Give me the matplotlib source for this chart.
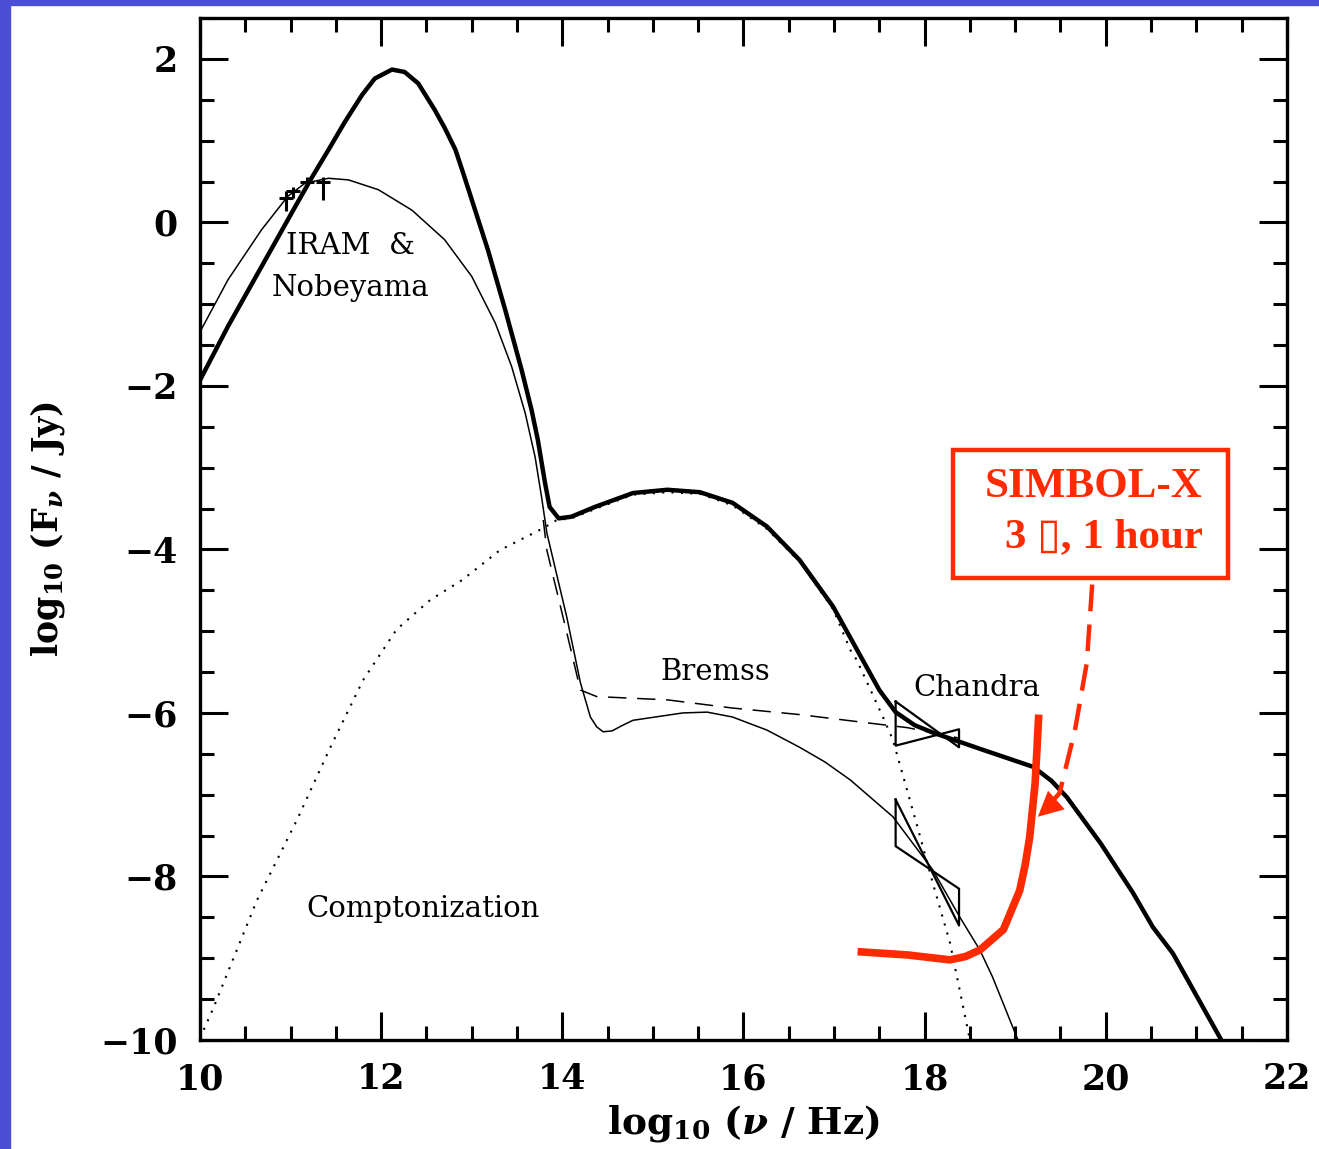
import matplotlib

matplotlib.use("Agg")
import matplotlib.pyplot as plt
from matplotlib.patches import Rectangle

plt.rcParams["font.family"] = ["DejaVu Serif"]
plt.rcParams["mathtext.fontset"] = "dejavuserif"

# total model (thick line)
total_x = [10.00, 10.31, 10.68, 11.05, 11.23, 11.42, 11.60, 11.79, 11.93, 12.12,
           12.26, 12.41, 12.59, 12.70, 12.82, 12.91, 13.00, 13.18, 13.37, 13.55,
           13.66, 13.73, 13.81, 13.86, 13.96, 14.10, 14.36, 14.78, 15.16, 15.52,
           15.88, 16.26, 16.62, 16.99, 17.36, 17.50, 17.68, 17.89, 18.09, 18.64,
           19.20, 19.40, 19.57, 19.94, 20.30, 20.52, 20.74, 21.30]
total_y = [-1.93, -1.27, -0.54, 0.19, 0.54, 0.89, 1.23, 1.56, 1.76, 1.87,
           1.84, 1.70, 1.38, 1.16, 0.89, 0.59, 0.28, -0.34, -1.07, -1.80,
           -2.29, -2.66, -3.19, -3.48, -3.62, -3.60, -3.48, -3.31, -3.27, -3.30,
           -3.43, -3.72, -4.13, -4.70, -5.44, -5.72, -5.99, -6.15, -6.24, -6.45,
           -6.66, -6.83, -7.03, -7.59, -8.20, -8.62, -8.94, -10.05]

# synchrotron + bremsstrahlung (thin line)
thin_x = [10.00, 10.31, 10.68, 10.97, 11.16, 11.42, 11.64, 11.97, 12.34, 12.70,
          13.00, 13.26, 13.44, 13.59, 13.70, 13.77, 13.83, 14.05, 14.20, 14.31,
          14.38, 14.45, 14.55, 14.65, 14.78, 15.33, 15.60, 15.88, 16.26, 16.62,
          16.90, 17.18, 17.65, 18.09, 18.39, 18.61, 18.75, 19.03]
thin_y = [-1.34, -0.70, -0.09, 0.32, 0.48, 0.54, 0.52, 0.40, 0.15, -0.21,
          -0.66, -1.23, -1.76, -2.33, -2.87, -3.35, -3.80, -4.83, -5.63, -6.05,
          -6.17, -6.23, -6.22, -6.16, -6.09, -6.00, -5.99, -6.05, -6.21, -6.42,
          -6.60, -6.82, -7.27, -7.92, -8.50, -8.90, -9.23, -10.0]

# bremsstrahlung (dashed)
brem_x = [13.79, 13.83, 14.05, 14.20, 14.38, 15.16, 15.88, 16.62, 17.36, 17.81, 18.39]
brem_y = [-3.64, -4.01, -5.02, -5.72, -5.80, -5.84, -5.94, -6.02, -6.12, -6.18, -6.31]

# comptonization (dotted)
comp_x = [10.00, 10.14, 10.63, 11.07, 11.44, 11.80, 12.17, 12.54, 12.90, 13.31,
          13.79, 13.94, 14.10, 14.42, 14.78, 15.16, 15.52, 15.88, 16.26, 16.62,
          16.99, 17.18, 17.25, 17.54, 17.65, 17.92, 18.09, 18.28, 18.50]
comp_y = [-9.98, -9.63, -8.29, -7.31, -6.42, -5.60, -4.98, -4.62, -4.37, -4.01,
          -3.74, -3.64, -3.62, -3.48, -3.33, -3.30, -3.32, -3.46, -3.75, -4.15,
          -4.73, -5.23, -5.35, -6.05, -6.33, -7.39, -8.08, -8.81, -10.0]

# IRAM & Nobeyama points
obs_x = [10.95, 11.03, 11.18, 11.36]
obs_y = [0.30, 0.38, 0.50, 0.50]
obs_err_lo = [0.16, 0.08, 0.05, 0.22]
obs_err_hi = [0.08, 0.05, 0.05, 0.05]

# Chandra bow-ties: x edges, then (y at left, y at right) for both edges
bow_x = [17.68, 18.38]
bow_hard = [(-5.86, -6.42), (-6.40, -6.20)]
bow_soft = [(-7.06, -8.60), (-7.63, -8.15)]

# SIMBOL-X sensitivity
simbol_x = [17.26, 17.81, 18.28, 18.45, 18.61, 18.87, 19.05, 19.11, 19.16, 19.22, 19.24, 19.26]
simbol_y = [-8.92, -8.96, -9.02, -8.98, -8.90, -8.65, -8.17, -7.86, -7.52, -6.86, -6.45, -6.02]

# dashed pointer from the box
pointer_x = [19.85, 19.79, 19.66, 19.49, 19.33]
pointer_y = [-4.43, -5.39, -6.21, -6.98, -7.18]

red = "#ff2a00"

fig = plt.figure(figsize=(13.19, 11.49), dpi=100)
ax = fig.add_axes([0.1516, 0.0949, 0.8241, 0.8894])

ax.plot(total_x, total_y, color="black", lw=3.2, solid_joinstyle="round")
ax.plot(thin_x, thin_y, color="black", lw=1.1)
ax.plot(brem_x, brem_y, color="black", lw=1.1, linestyle=(0, (12, 7)))
ax.plot(comp_x, comp_y, color="black", lw=1.5, linestyle=(0, (1, 3.5)))

ax.errorbar(obs_x, obs_y, yerr=[obs_err_lo, obs_err_hi], fmt="_", color="black",
            ms=10, mew=2.2, elinewidth=2.2, capsize=0)

for (a, b) in [bow_hard, bow_soft]:
    ax.plot([bow_x[0], bow_x[1], bow_x[1], bow_x[0], bow_x[0]],
            [a[0], a[1], b[1], b[0], a[0]], color="black", lw=1.6)

ax.plot(simbol_x, simbol_y, color=red, lw=5.5, solid_capstyle="butt",
        solid_joinstyle="round")
ax.plot(pointer_x, pointer_y, color=red, lw=3.2, linestyle=(0, (6, 3)))
ax.annotate("", xy=(19.25, -7.27), xytext=(19.40, -7.12),
            arrowprops=dict(arrowstyle="-|>", color=red, lw=0,
                            mutation_scale=45, shrinkA=0, shrinkB=0))

ax.add_patch(Rectangle((0.6927, 0.452), 0.253, 0.1253, transform=ax.transAxes,
                       fill=False, edgecolor=red, lw=3.2))
box_kw = dict(transform=ax.transAxes, ha="right", va="center", color=red,
              fontsize=31, fontweight="bold", family=["Liberation Serif", "DejaVu Sans"])
ax.text(0.9227, 0.541, "SIMBOL-X", **box_kw)
ax.text(0.9227, 0.492, "3 \u25af, 1 hour", **box_kw)

label_kw = dict(ha="center", va="center", fontsize=21, color="black")
ax.text(11.66, -0.29, "IRAM  &", **label_kw)
ax.text(11.66, -0.80, "Nobeyama", **label_kw)
ax.text(15.69, -5.50, "Bremss", **label_kw)
ax.text(18.58, -5.70, "Chandra", **label_kw)
ax.text(12.46, -8.40, "Comptonization", **label_kw)

ax.set_xlim(10, 22)
ax.set_ylim(-10, 2.5)
ax.set_xticks([10, 12, 14, 16, 18, 20, 22])
ax.set_yticks([-10, -8, -6, -4, -2, 0, 2])
ax.set_xticks([x / 2 for x in range(20, 45)], minor=True)
ax.set_yticks([y / 2 for y in range(-20, 6)], minor=True)
ax.tick_params(which="both", direction="in", top=True, right=True, width=2.2,
               labelsize=25, pad=16)
ax.tick_params(which="major", length=20)
ax.tick_params(which="minor", length=10)
for lab in ax.get_xticklabels() + ax.get_yticklabels():
    lab.set_fontweight("bold")
for s in ax.spines.values():
    s.set_linewidth(2.4)

ax.set_xlabel(r"log$_{\mathbf{10}}$ ($\boldsymbol{\nu}$ / Hz)", fontsize=27, fontweight="bold")
ax.set_ylabel(r"log$_{\mathbf{10}}$ (F$_{\boldsymbol{\nu}}$ / Jy)", fontsize=25, fontweight="bold")
ax.xaxis.set_label_coords(0.5, -0.062)
ax.yaxis.set_label_coords(-0.1224, 0.5)

fig.patches.append(Rectangle((0, 0), 10 / 1319, 1, transform=fig.transFigure,
                             color="#4a4fd6", zorder=10))
fig.patches.append(Rectangle((0, 1 - 5 / 1149), 1, 5 / 1149, transform=fig.transFigure,
                             color="#4a4fd6", zorder=10))

fig.savefig("out.png", dpi=100)
